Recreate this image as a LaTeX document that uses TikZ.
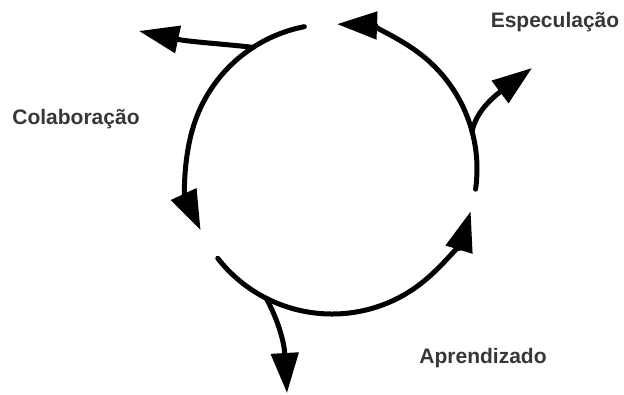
\documentclass[tikz,border=0pt]{standalone}
\usepackage{fontspec}
\setmainfont{Liberation Sans}
\usepackage{xcolor}
\usetikzlibrary{arrows.meta}
\definecolor{cink}{RGB}{0,0,0}
\definecolor{cgray}{RGB}{55,55,55}

\begin{document}
\begin{tikzpicture}[
  x=1pt, y=1pt,
  >={Triangle[length=40pt, width=27pt]},
  cyc/.style={->, line width=5pt, draw=cink, line cap=round},
  lab/.style={font=\fontsize{21}{25}\selectfont\bfseries, text=cgray,
              anchor=base, inner sep=0pt}
]
\useasboundingbox (0,0) rectangle (624,-394);

% ---- Centre, arc starts and branch points ----
\coordinate (ctr) at (332,-169);
\coordinate (e1) at ([shift={(-8:145)}]ctr);
\coordinate (b1) at ([shift={(15:145)}]ctr);
\coordinate (e2) at ([shift={(101:145)}]ctr);
\coordinate (b2) at ([shift={(123:145)}]ctr);
\coordinate (e3) at ([shift={(218:145)}]ctr);
\coordinate (b3) at ([shift={(243:145)}]ctr);

% ---- Branch tips ----
\coordinate (t1) at (532,-68);
\coordinate (t2) at (139,-31);
\coordinate (t3) at (287,-393);

% ---- Three arcs of the cycle ----
\draw[cyc] (e1) arc[start angle=-8, end angle=88, radius=145];
\draw[cyc] (e2) arc[start angle=101, end angle=205, radius=145];
\draw[cyc] (e3) arc[start angle=218, end angle=343, radius=145];

% ---- Branches leaving the cycle ----
\draw[cyc] (b1) .. controls (476,-112) and (492,-98) .. (t1);
\draw[cyc] (b2) .. controls (225,-44) and (190,-42) .. (t2);
\draw[cyc] (b3) .. controls (277,-318) and (284,-340) .. (t3);

% ---- Labels ----
\node[lab] (espec) at (555,-27) {Especulação};
\node[lab] (colab) at (76,-124) {Colaboração};
\node[lab] (aprend) at (483,-363) {Aprendizado};

\end{tikzpicture}
\end{document}
